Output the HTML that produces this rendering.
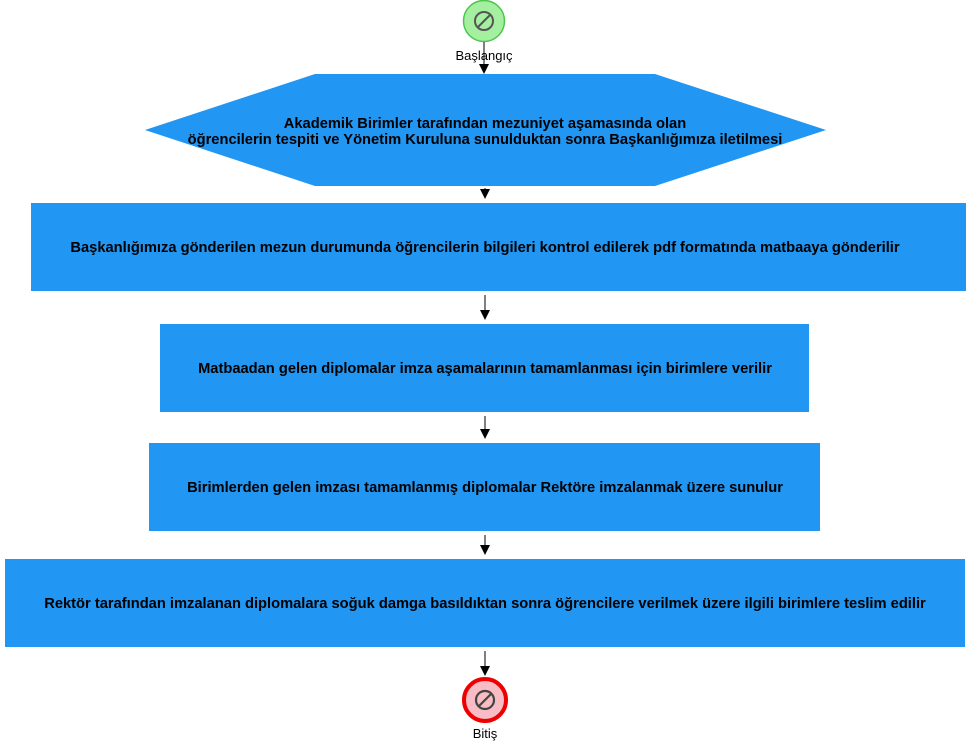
<!DOCTYPE html>
<html><head><meta charset="utf-8"><style>
html,body{margin:0;padding:0;background:#fff;}
svg{display:block;}
text{font-family:"Liberation Sans",Arial,sans-serif;}
.t{font-size:14.7px;font-weight:bold;fill:#000;text-anchor:middle;}
</style></head><body>
<svg width="970" height="750" viewBox="0 0 970 750" xmlns="http://www.w3.org/2000/svg">
<!-- start -->
<circle cx="484" cy="21" r="20.5" fill="#a5f0a0" stroke="#4cc64c" stroke-width="1.5"/>
<circle cx="484" cy="21" r="9" fill="none" stroke="#555" stroke-width="2"/>
<line x1="478" y1="27" x2="490" y2="15" stroke="#555" stroke-width="2"/>
<line x1="484" y1="42" x2="484" y2="66" stroke="#555" stroke-width="1.5"/>
<polygon points="479,64 489,64 484,74" fill="#000"/>
<text x="484" y="60" font-size="13" text-anchor="middle" fill="#000">Başlangıç</text>
<!-- hexagon -->
<polygon points="145,130 315,74 655,74 826,130 655,186 315,186" fill="#2196f3"/>
<text class="t" x="485" y="128">Akademik Birimler tarafından mezuniyet aşamasında olan</text>
<text class="t" x="485" y="144">öğrencilerin tespiti ve Yönetim Kuruluna sunulduktan sonra Başkanlığımıza iletilmesi</text>
<line x1="485" y1="188" x2="485" y2="192" stroke="#555" stroke-width="1.5"/>
<polygon points="480,189 490,189 485,199" fill="#000"/>
<rect x="31" y="203" width="935" height="88" fill="#2196f3"/>
<text class="t" x="485" y="252">Başkanlığımıza gönderilen mezun durumunda öğrencilerin bilgileri kontrol edilerek pdf formatında matbaaya gönderilir</text>
<line x1="485" y1="295" x2="485" y2="312" stroke="#555" stroke-width="1.5"/>
<polygon points="480,310 490,310 485,320" fill="#000"/>
<rect x="160" y="324" width="649" height="88" fill="#2196f3"/>
<text class="t" x="485" y="373">Matbaadan gelen diplomalar imza aşamalarının tamamlanması için birimlere verilir</text>
<line x1="485" y1="416" x2="485" y2="431" stroke="#555" stroke-width="1.5"/>
<polygon points="480,429 490,429 485,439" fill="#000"/>
<rect x="149" y="443" width="671" height="88" fill="#2196f3"/>
<text class="t" x="485" y="492">Birimlerden gelen imzası tamamlanmış diplomalar Rektöre imzalanmak üzere sunulur</text>
<line x1="485" y1="535" x2="485" y2="547" stroke="#555" stroke-width="1.5"/>
<polygon points="480,545 490,545 485,555" fill="#000"/>
<rect x="5" y="559" width="960" height="88" fill="#2196f3"/>
<text class="t" x="485" y="608">Rektör tarafından imzalanan diplomalara soğuk damga basıldıktan sonra öğrencilere verilmek üzere ilgili birimlere teslim edilir</text>
<line x1="485" y1="651" x2="485" y2="668" stroke="#555" stroke-width="1.5"/>
<polygon points="480,666 490,666 485,676" fill="#000"/>
<!-- end -->
<circle cx="485" cy="700" r="21" fill="#f8bcc4" stroke="#ee0000" stroke-width="4"/>
<circle cx="485" cy="700" r="9" fill="none" stroke="#444" stroke-width="2.2"/>
<line x1="479" y1="706" x2="491" y2="694" stroke="#444" stroke-width="2.2"/>
<text x="485" y="738" font-size="13" text-anchor="middle" fill="#000">Bitiş</text>
</svg>
</body></html>
